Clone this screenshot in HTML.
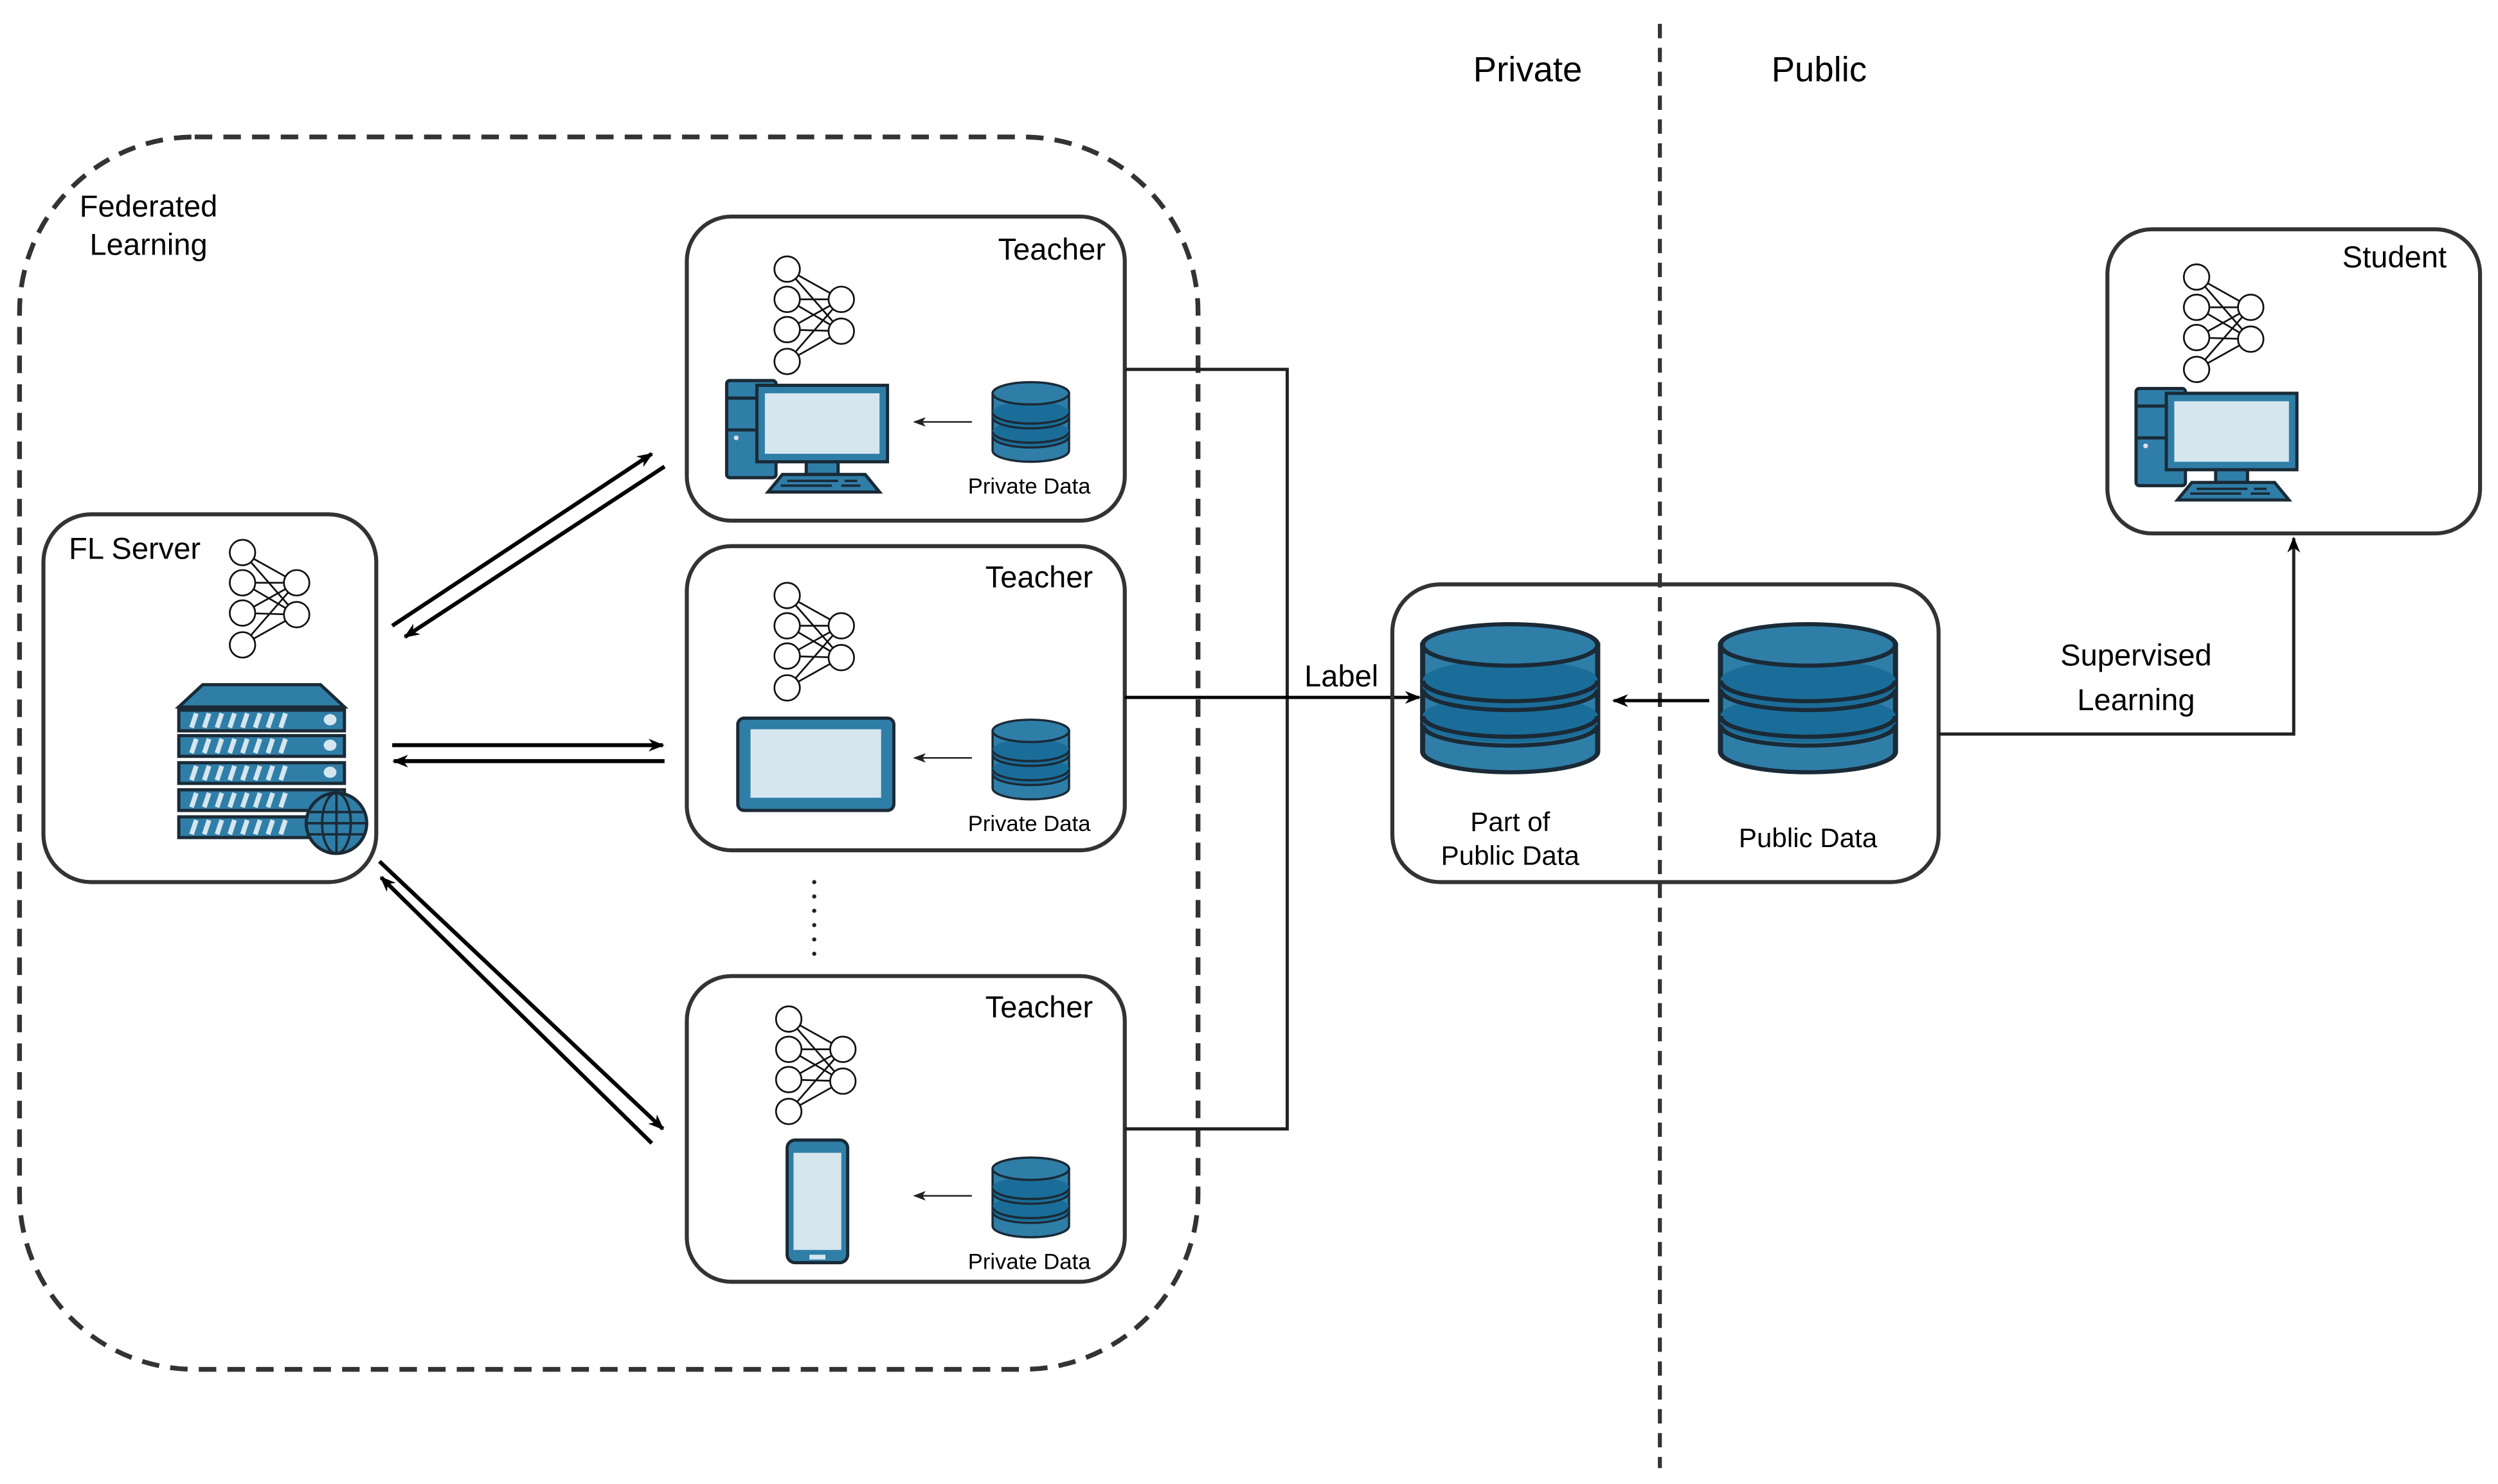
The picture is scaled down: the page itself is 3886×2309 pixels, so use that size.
<!DOCTYPE html>
<html><head><meta charset="utf-8"><style>html,body{margin:0;padding:0;background:#fff}svg{display:block}</style></head>
<body>
<svg width="3886" height="2309" viewBox="0 0 1568 932" xmlns="http://www.w3.org/2000/svg" font-family="Liberation Sans, sans-serif">
<defs>
<marker id="ah" markerWidth="10" markerHeight="10" refX="9" refY="5" orient="auto" markerUnits="userSpaceOnUse"><path d="M0,1 L10,5 L0,9 L3,5 z" fill="#000"/></marker>
<marker id="ahs" markerWidth="8" markerHeight="8" refX="7" refY="4" orient="auto" markerUnits="userSpaceOnUse"><path d="M0,1 L8,4 L0,7 L2,4 z" fill="#222"/></marker>
<g id="nn" stroke="#111" stroke-width="1.1" fill="#fff">
 <g fill="none">
 <line x1="0" y1="0" x2="34" y2="19"/><line x1="0" y1="0" x2="34" y2="39"/>
 <line x1="0" y1="19" x2="34" y2="19"/><line x1="0" y1="19" x2="34" y2="39"/>
 <line x1="0" y1="38" x2="34" y2="19"/><line x1="0" y1="38" x2="34" y2="39"/>
 <line x1="0" y1="58" x2="34" y2="19"/><line x1="0" y1="58" x2="34" y2="39"/>
 </g>
 <circle cx="0" cy="0" r="8"/><circle cx="0" cy="19" r="8"/><circle cx="0" cy="38" r="8"/><circle cx="0" cy="58" r="8"/>
 <circle cx="34" cy="19" r="8"/><circle cx="34" cy="39" r="8"/>
</g>
<g id="db" stroke="#1a2a36" stroke-width="1.4">
 <path d="M-24 7 V43 A24 7 0 0 0 24 43 V7 Z" fill="#2f7ea8"/>
 <path d="M-24 19 A24 7 0 0 1 24 19 V21 A24 7 0 0 1 -24 21 Z" fill="#1b6d99" stroke="none"/>
 <path d="M-24 31 A24 7 0 0 1 24 31 V33 A24 7 0 0 1 -24 33 Z" fill="#1b6d99" stroke="none"/>
 <path d="M-24 19 A24 7 0 0 0 24 19 M-24 22 A24 7 0 0 0 24 22 M-24 31 A24 7 0 0 0 24 31 M-24 34 A24 7 0 0 0 24 34" fill="none"/>
 <ellipse cx="0" cy="7" rx="24" ry="7" fill="#2f7ea8"/>
</g>
<g id="pc" stroke="#1a2a36" stroke-width="2">
 <rect x="0" y="0" width="31" height="61" rx="2" fill="#2f7ea8"/>
 <line x1="0" y1="11" x2="20" y2="11"/><line x1="0" y1="31" x2="20" y2="31"/>
 <circle cx="6" cy="36" r="1.5" fill="#dde" stroke="none"/>
 <rect x="50" y="50" width="20" height="9" fill="#2f7ea8"/>
 <path d="M35 59 H87 L96 70 H26 Z" fill="#2f7ea8"/>
 <rect x="19" y="3" width="82" height="48" fill="#2f7ea8"/>
 <rect x="24" y="8" width="72" height="38" fill="#d6e6ee" stroke="none"/>
 <g stroke-width="1.5"><line x1="38" y1="63" x2="70" y2="63"/><line x1="34" y1="66" x2="66" y2="66"/><line x1="74" y1="63" x2="82" y2="63"/><line x1="72" y1="66" x2="84" y2="66"/></g>
</g>
</defs>

<!-- federated learning dashed region -->
<rect x="12" y="86" width="740" height="774" rx="110" fill="none" stroke="#333" stroke-width="3" stroke-dasharray="11 7"/>
<text x="93" y="136" font-size="19" text-anchor="middle">Federated</text>
<text x="93" y="160" font-size="19" text-anchor="middle">Learning</text>

<!-- vertical divider -->
<line x1="1042" y1="15" x2="1042" y2="922" stroke="#333" stroke-width="2.5" stroke-dasharray="9 6"/>
<text x="959" y="51" font-size="22" text-anchor="middle">Private</text>
<text x="1142" y="51" font-size="22" text-anchor="middle">Public</text>

<!-- FL server -->
<rect x="27" y="323" width="209" height="231" rx="30" fill="#fff" stroke="#333" stroke-width="2.5"/>
<text x="43" y="351" font-size="19">FL Server</text>
<use href="#nn" x="152" y="347"/>
<g stroke="#1a2a36" stroke-width="2">
 <path d="M112 444 L127 430 H201 L216 444 Z" fill="#2f7ea8"/>
 <g fill="#2f7ea8">
 <rect x="112" y="446" width="104" height="13"/><rect x="112" y="462" width="104" height="13"/>
 <rect x="112" y="479" width="104" height="13"/><rect x="112" y="496" width="104" height="13"/>
 <rect x="112" y="513" width="104" height="13"/>
 </g>
 <g stroke="#d6e6ee" stroke-width="3">
 <path d="M120 457 l3 -9 M128 457 l3 -9 M136 457 l3 -9 M144 457 l3 -9 M152 457 l3 -9 M160 457 l3 -9 M168 457 l3 -9 M176 457 l3 -9"/>
 <path d="M120 473 l3 -9 M128 473 l3 -9 M136 473 l3 -9 M144 473 l3 -9 M152 473 l3 -9 M160 473 l3 -9 M168 473 l3 -9 M176 473 l3 -9"/>
 <path d="M120 490 l3 -9 M128 490 l3 -9 M136 490 l3 -9 M144 490 l3 -9 M152 490 l3 -9 M160 490 l3 -9 M168 490 l3 -9 M176 490 l3 -9"/>
 <path d="M120 507 l3 -9 M128 507 l3 -9 M136 507 l3 -9 M144 507 l3 -9 M152 507 l3 -9 M160 507 l3 -9 M168 507 l3 -9 M176 507 l3 -9"/>
 <path d="M120 524 l3 -9 M128 524 l3 -9 M136 524 l3 -9 M144 524 l3 -9 M152 524 l3 -9 M160 524 l3 -9 M168 524 l3 -9 M176 524 l3 -9"/>
 </g>
 <g fill="#d6e6ee" stroke="none"><ellipse cx="207" cy="452" rx="4" ry="3.5"/><ellipse cx="207" cy="468" rx="4" ry="3.5"/><ellipse cx="207" cy="485" rx="4" ry="3.5"/></g>
 <circle cx="211" cy="517" r="19" fill="#2f7ea8"/>
 <ellipse cx="211" cy="517" rx="9" ry="19" fill="none" stroke-width="1.5"/>
 <line x1="211" y1="498" x2="211" y2="536" stroke-width="1.5"/>
 <path d="M193 510 H229 M192 517 H230 M193 524 H229" stroke-width="1.5"/>
</g>

<!-- Teacher 1 -->
<rect x="431" y="136" width="275" height="191" rx="28" fill="#fff" stroke="#333" stroke-width="2.5"/>
<text x="694" y="163" font-size="19" text-anchor="end">Teacher</text>
<use href="#nn" x="494" y="169"/>
<use href="#pc" x="456" y="239"/>
<use href="#db" x="647" y="240"/>
<line x1="610" y1="265" x2="574" y2="265" stroke="#222" stroke-width="1" marker-end="url(#ahs)"/>
<text x="646" y="310" font-size="14" text-anchor="middle">Private Data</text>

<!-- Teacher 2 -->
<rect x="431" y="343" width="275" height="191" rx="28" fill="#fff" stroke="#333" stroke-width="2.5"/>
<text x="686" y="369" font-size="19" text-anchor="end">Teacher</text>
<use href="#nn" x="494" y="374"/>
<rect x="463" y="451" width="98" height="58" rx="4" fill="#2f7ea8" stroke="#1a2a36" stroke-width="2"/>
<rect x="471" y="458" width="82" height="43" fill="#d6e6ee"/>
<use href="#db" x="647" y="452"/>
<line x1="610" y1="476" x2="574" y2="476" stroke="#222" stroke-width="1" marker-end="url(#ahs)"/>
<text x="646" y="522" font-size="14" text-anchor="middle">Private Data</text>

<!-- dots -->
<g fill="#222"><circle cx="511" cy="554" r="1.3"/><circle cx="511" cy="563" r="1.3"/><circle cx="511" cy="572" r="1.3"/><circle cx="511" cy="581" r="1.3"/><circle cx="511" cy="590" r="1.3"/><circle cx="511" cy="599" r="1.3"/></g>

<!-- Teacher 3 -->
<rect x="431" y="613" width="275" height="192" rx="28" fill="#fff" stroke="#333" stroke-width="2.5"/>
<text x="686" y="639" font-size="19" text-anchor="end">Teacher</text>
<use href="#nn" x="495" y="640"/>
<rect x="494" y="716" width="38" height="77" rx="5" fill="#2f7ea8" stroke="#1a2a36" stroke-width="2"/>
<rect x="498" y="724" width="30" height="61" fill="#d6e6ee"/>
<rect x="508" y="788" width="10" height="3" fill="#d6e6ee"/>
<use href="#db" x="647" y="727"/>
<line x1="610" y1="751" x2="574" y2="751" stroke="#222" stroke-width="1" marker-end="url(#ahs)"/>
<text x="646" y="797" font-size="14" text-anchor="middle">Private Data</text>

<!-- server arrows -->
<g stroke="#000" stroke-width="2.5" fill="none">
 <line x1="246" y1="393" x2="409" y2="285" marker-end="url(#ah)"/>
 <line x1="417" y1="293" x2="254" y2="400" marker-end="url(#ah)"/>
 <line x1="246" y1="468" x2="416" y2="468" marker-end="url(#ah)"/>
 <line x1="417" y1="478" x2="247" y2="478" marker-end="url(#ah)"/>
 <line x1="238" y1="541" x2="416" y2="709" marker-end="url(#ah)"/>
 <line x1="409" y1="718" x2="239" y2="551" marker-end="url(#ah)"/>
</g>

<!-- label connectors -->
<g stroke="#222" stroke-width="2" fill="none">
 <polyline points="706,232 808,232 808,709 706,709"/>
 <line x1="706" y1="438" x2="891" y2="438" marker-end="url(#ah)" stroke="#000"/>
</g>
<text x="842" y="431" font-size="19" text-anchor="middle">Label</text>

<!-- public data box -->
<rect x="874" y="367" width="343" height="187" rx="30" fill="none" stroke="#333" stroke-width="2.5"/>
<use href="#db" transform="translate(948,392) scale(2.29,1.86)"/>
<use href="#db" transform="translate(1135,392) scale(2.29,1.86)"/>
<line x1="1073" y1="440" x2="1013" y2="440" stroke="#000" stroke-width="2" marker-end="url(#ah)"/>
<text x="948" y="522" font-size="17" text-anchor="middle">Part of</text>
<text x="948" y="543" font-size="17" text-anchor="middle">Public Data</text>
<text x="1135" y="532" font-size="17" text-anchor="middle">Public Data</text>

<!-- student -->
<rect x="1323" y="144" width="234" height="191" rx="28" fill="#fff" stroke="#333" stroke-width="2.5"/>
<text x="1536" y="168" font-size="19" text-anchor="end">Student</text>
<use href="#nn" x="1379" y="174"/>
<use href="#pc" x="1341" y="244"/>

<polyline points="1217,461 1440,461 1440,338" fill="none" stroke="#222" stroke-width="2" marker-end="url(#ah)"/>
<text x="1341" y="418" font-size="19" text-anchor="middle">Supervised</text>
<text x="1341" y="446" font-size="19" text-anchor="middle">Learning</text>
</svg>
</body></html>
